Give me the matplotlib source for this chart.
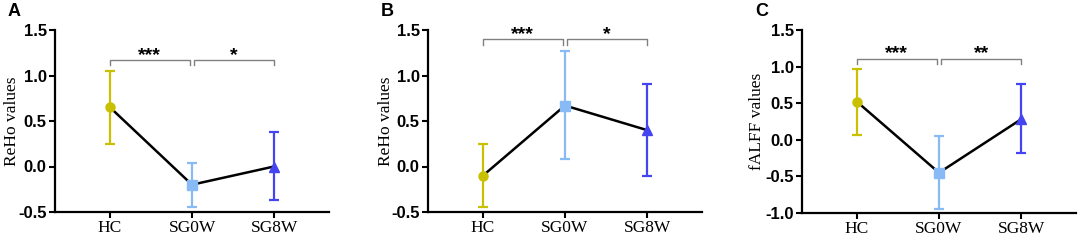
import matplotlib
matplotlib.use("Agg")
import matplotlib.pyplot as plt

groups = ["HC", "SG0W", "SG8W"]
colors = ["#c8c000", "#88bbf5", "#4444f0"]
markers = ["o", "s", "^"]

panel_letters = ["A", "B", "C"]
ylabels = ["ReHo values", "ReHo values", "fALFF values"]

means_A = [0.65, -0.20, 0.00]
low_A = [0.25, -0.45, -0.37]
high_A = [1.05, 0.04, 0.38]

means_B = [-0.10, 0.67, 0.40]
low_B = [-0.45, 0.08, -0.10]
high_B = [0.25, 1.27, 0.91]

means_C = [0.52, -0.45, 0.28]
low_C = [0.07, -0.95, -0.18]
high_C = [0.97, 0.05, 0.76]

ylims = [(-0.5, 1.5), (-0.5, 1.5), (-1.0, 1.5)]
yticks = [[-0.5, 0.0, 0.5, 1.0, 1.5], [-0.5, 0.0, 0.5, 1.0, 1.5],
          [-1.0, -0.5, 0.0, 0.5, 1.0, 1.5]]
sig_labels = [["***", "*"], ["***", "*"], ["***", "**"]]
bracket_y = [1.165, 1.40, 1.10]
bracket_drop = [0.05, 0.065, 0.068]

means = [means_A, means_B, means_C]
lows = [low_A, low_B, low_C]
highs = [high_A, high_B, high_C]

fig = plt.figure(figsize=(10.84, 2.46), dpi=100)
W, H = 1084, 246
lefts = [55, 428, 802]
width = 274
top_px = 30
bottom_px = [212, 212, 213]
ylabel_off = [43, 42, 45]

serif = ["Liberation Serif", "DejaVu Serif"]
sans = ["Liberation Sans", "DejaVu Sans"]

for i in range(3):
    ax = fig.add_axes([lefts[i] / W, 1 - bottom_px[i] / H, width / W,
                       (bottom_px[i] - top_px) / H])
    x = list(range(len(groups)))
    m = means[i]
    ax.plot(x, m, color="black", lw=1.8, zorder=2)
    for j in range(3):
        yerr = [[m[j] - lows[i][j]], [highs[i][j] - m[j]]]
        ax.errorbar([x[j]], [m[j]], yerr=yerr, color=colors[j], ecolor=colors[j],
                    elinewidth=1.6, capsize=3.5, capthick=1.6, marker=markers[j],
                    markersize=6.5, lw=0, zorder=3)
    ax.set_xlim(-0.67, 2.67)
    ax.set_ylim(*ylims[i])
    ax.set_yticks(yticks[i])
    ax.set_yticklabels([f"{v:.1f}" for v in yticks[i]], fontfamily=sans,
                       fontweight="bold", fontsize=12)
    ax.set_xticks(x)
    ax.set_xticklabels(groups, fontfamily=serif, fontsize=12.5)
    ax.spines["top"].set_visible(False)
    ax.spines["right"].set_visible(False)
    ax.spines["left"].set_linewidth(1.6)
    ax.spines["bottom"].set_linewidth(1.6)
    ax.tick_params(axis="both", width=1.5, length=4, pad=2)
    ax.set_ylabel(ylabels[i], fontfamily=serif, fontsize=12.5, ha="center",
                  va="center")
    ax.yaxis.set_label_coords(-ylabel_off[i] / width, 0.5)

    by = bracket_y[i]
    d = bracket_drop[i]
    for (x0, x1), lab in zip([(0.0, 0.97), (1.03, 2.0)], sig_labels[i]):
        ax.plot([x0, x0, x1, x1], [by - d, by, by, by - d], color="#808080",
                lw=1.0, clip_on=False, zorder=1)
        ax.text((x0 + x1) / 2, by - 0.04, lab, ha="center", va="bottom",
                fontsize=14, fontweight="bold", fontfamily=sans)

    fig.text((lefts[i] - 47) / W, 1 - 12 / H, panel_letters[i], fontsize=13,
             fontweight="bold", fontfamily=sans, ha="left", va="center")

fig.savefig("out.png", dpi=100)
